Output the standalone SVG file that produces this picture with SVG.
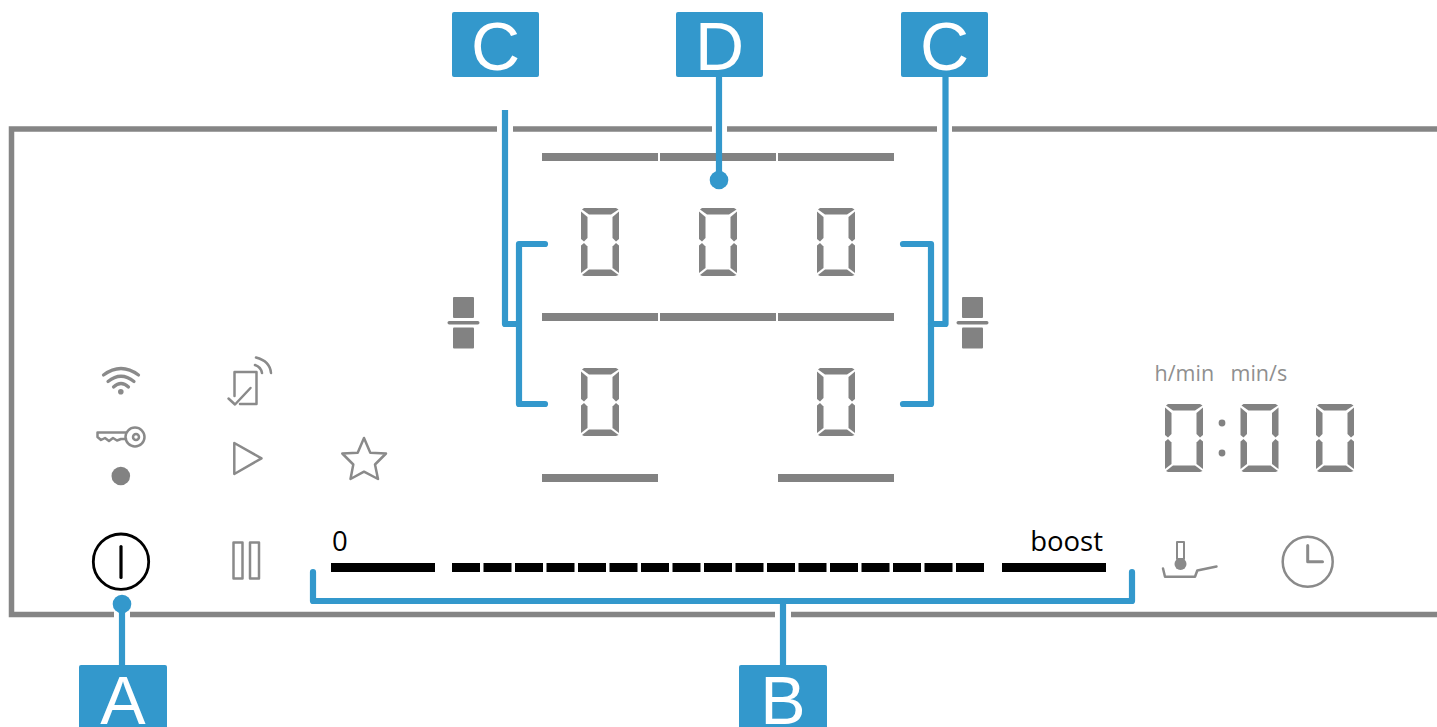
<svg xmlns="http://www.w3.org/2000/svg" xmlns:xlink="http://www.w3.org/1999/xlink" width="1437" height="727" viewBox="0 0 1437 727">
<style>
.bg{fill:#fff}
.frame{fill:none;stroke:#858585;stroke-width:5.5}
.gray{fill:#828282}
.ico{fill:none;stroke:#8a8a8a;stroke-width:2.5;stroke-linecap:round;stroke-linejoin:round}
.blk{fill:#000}
.lead{fill:none;stroke:#3398cc;stroke-width:6.2;stroke-linecap:round;stroke-linejoin:round}
.flat{stroke-linecap:butt}
.dot{fill:#3398cc}
.box{fill:#3398cc}
.cap{font-family:"Liberation Sans",Arial,sans-serif;font-size:68px;fill:#fff;text-anchor:middle}
.lbl{font-family:"Open Sans","Noto Sans",sans-serif;font-size:27.5px;fill:#000}
.unit{font-family:"Open Sans","Noto Sans",sans-serif;font-size:21.5px;fill:#8f8f8f}
</style>
<defs>
<g id="dg">
<polygon points="3,0 35,0 37.5,1.5 30,6.5 8,6.5 1,1.5"/>
<polygon points="0,3.5 6.5,9 6.5,30 3,33.5 0,31"/>
<polygon points="38,3.5 31.5,9 31.5,30 35,33.5 38,31"/>
<polygon points="0,37.5 3,35 6.5,38.5 6.5,60 0,65"/>
<polygon points="38,37.5 35,35 31.5,38.5 31.5,60 38,65"/>
<polygon points="8,61.5 30,61.5 37.5,67 35,68 3,68 1,67"/>
</g>
<g id="split">
<rect x="0" y="0" width="21" height="21" rx="1"/>
<rect x="0" y="30.5" width="21" height="21" rx="1"/>
<rect x="-5.5" y="24" width="32" height="3.5" rx="1.7"/>
</g>
</defs>
<rect class="bg" width="1437" height="727"/>
<g id="panel">
<path class="frame" d="M1437 129H11.5V614.5H1437"/>
<rect class="bg" x="497" y="120" width="16" height="20"/>
<rect class="bg" x="712" y="120" width="15" height="20"/>
<rect class="bg" x="937" y="120" width="15" height="20"/>
<rect class="bg" x="114" y="606" width="16" height="18"/>
<rect class="bg" x="775" y="606" width="16" height="18"/>
</g>
<g id="bars" class="gray">
<rect x="542" y="153" width="116" height="8"/><rect x="660" y="153" width="116" height="8"/><rect x="778" y="153" width="116" height="8"/>
<rect x="542" y="313" width="116" height="8"/><rect x="660" y="313" width="116" height="8"/><rect x="778" y="313" width="116" height="8"/>
<rect x="542" y="474" width="116" height="8"/><rect x="778" y="474" width="116" height="8"/>
</g>
<g id="digits" class="gray">
<use xlink:href="#dg" href="#dg" x="581" y="208"/><use xlink:href="#dg" href="#dg" x="699" y="208"/><use xlink:href="#dg" href="#dg" x="817" y="208"/>
<use xlink:href="#dg" href="#dg" x="581" y="368"/><use xlink:href="#dg" href="#dg" x="817" y="368"/>
</g>
<g id="split-left" class="gray"><use xlink:href="#split" href="#split" x="453" y="297"/></g>
<g id="split-right" class="gray"><use xlink:href="#split" href="#split" x="962" y="297"/></g>
<g id="timer">
<text class="unit" x="1154.500" y="381">h/min</text>
<text class="unit" x="1230.500" y="381">min/s</text>
<g class="gray">
<use xlink:href="#dg" href="#dg" x="1165" y="404"/><use xlink:href="#dg" href="#dg" x="1240.500" y="404"/><use xlink:href="#dg" href="#dg" x="1316" y="404"/>
<circle cx="1222" cy="423" r="3.4"/><circle cx="1222" cy="453" r="3.4"/>
</g>
</g>
<g id="wifi" class="ico">
<path style="stroke-width:3.200" d="M103.500 375Q121 362 138.500 375"/>
<path style="stroke-width:3.200" d="M108 381.500Q121 371 134 381.500"/>
<path style="stroke-width:3.200" d="M113.500 387Q121 380 128.500 387"/>
<circle cx="120.800" cy="391.700" r="2.800" style="fill:#8a8a8a;stroke:none"/>
</g>
<g id="remote" class="ico">
<path d="M234.500 396V372H256.500V404H240"/>
<path d="M228.500 398.500L235 404.500L250.500 388"/>
<path d="M255 365Q261 367 262 373"/>
<path d="M256 357.500Q270 361 271 373"/>
</g>
<g id="key" class="ico">
<circle cx="135" cy="437" r="9.500"/><circle cx="136" cy="437" r="3"/>
<path d="M125.500 432.500H97.500V437L101 440L105 438L109 441L113 438L117 440.500L121 439H126"/>
</g>
<g id="record"><circle class="gray" cx="120.800" cy="476" r="9.300"/></g>
<g id="play" class="ico"><polygon points="234.300,443 261.500,458.300 234.300,474"/></g>
<g id="star" class="ico"><polygon points="364,438 370.300,452.700 386,453.500 375,464.500 378,479 364,471.700 350.500,479 353.300,464.500 342.300,453.500 357.700,452.700"/></g>
<g id="power" fill="none" stroke="#000" stroke-linecap="round">
<circle cx="121" cy="561.700" r="27.700" stroke-width="2.800"/><path d="M121 546.500V577.500" stroke-width="3.200"/>
</g>
<g id="pause" class="ico"><rect x="233.500" y="542.500" width="9" height="36"/><rect x="250" y="542.500" width="9" height="36"/></g>
<g id="slider" class="blk">
<rect x="331" y="563" width="104" height="9"/>
<rect x="452" y="563" width="28" height="9"/><rect x="483.500" y="563" width="28" height="9"/><rect x="515" y="563" width="28" height="9"/><rect x="546.500" y="563" width="28" height="9"/><rect x="578" y="563" width="28" height="9"/><rect x="609.500" y="563" width="28" height="9"/><rect x="641" y="563" width="28" height="9"/><rect x="672.500" y="563" width="28" height="9"/><rect x="704" y="563" width="28" height="9"/><rect x="735.500" y="563" width="28" height="9"/><rect x="767" y="563" width="28" height="9"/><rect x="798.500" y="563" width="28" height="9"/><rect x="830" y="563" width="28" height="9"/><rect x="861.500" y="563" width="28" height="9"/><rect x="893" y="563" width="28" height="9"/><rect x="924.500" y="563" width="28" height="9"/><rect x="956" y="563" width="28" height="9"/>
<rect x="1002" y="563" width="104" height="9"/>
<text class="lbl" x="332" y="551">0</text>
<text class="lbl" x="1103" y="551" text-anchor="end">boost</text>
</g>
<g id="pan" class="ico">
<rect x="1177" y="542" width="7" height="17" style="stroke-width:2"/>
<circle cx="1180.500" cy="564" r="6" style="fill:#8a8a8a;stroke:none"/>
<path d="M1163 568.500L1165 576.700H1195L1197.300 570.500L1216.500 566.500"/>
</g>
<g id="clock" class="ico"><circle cx="1307.700" cy="561.700" r="25"/><path style="stroke-width:3" d="M1307.700 545.500V561.700H1322.500"/></g>
<g id="connectors">
<path class="lead flat" d="M505 110V324H519"/>
<path class="lead" d="M545 244H519V404H545"/>
<path class="lead" d="M945.500 77V324H931"/>
<path class="lead" d="M903 244H931V404H903"/>
<path class="lead" d="M719 77V180"/><circle class="dot" cx="719" cy="180" r="9.300"/>
<path class="lead" d="M122 604V665"/><circle class="dot" cx="122" cy="604" r="9.300"/>
<path class="lead" d="M313 572V601H1132V572"/>
<path class="lead" d="M783 601V665"/>
</g>
<g id="tag-c1"><rect class="box" x="452" y="12" width="87" height="65" rx="2"/><text class="cap" x="495.500" y="69.500">C</text></g>
<g id="tag-d"><rect class="box" x="676" y="12" width="87" height="65" rx="2"/><text class="cap" x="719.500" y="69.500">D</text></g>
<g id="tag-c2"><rect class="box" x="901" y="12" width="87" height="65" rx="2"/><text class="cap" x="944.500" y="69.500">C</text></g>
<g id="tag-a"><rect class="box" x="79" y="665" width="88" height="70" rx="2"/><text class="cap" x="123" y="724">A</text></g>
<g id="tag-b"><rect class="box" x="739" y="665" width="88" height="70" rx="2"/><text class="cap" x="783" y="724">B</text></g>
</svg>
